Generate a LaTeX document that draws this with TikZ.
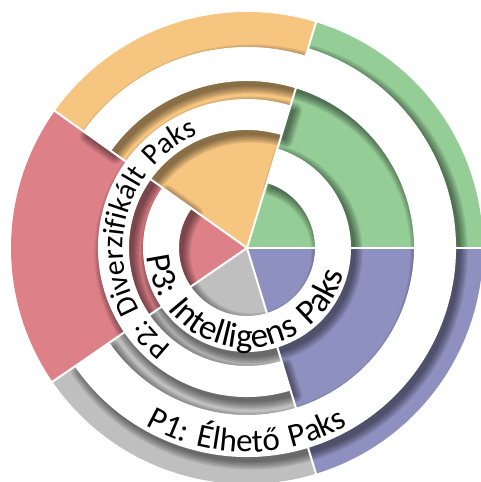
\documentclass[tikz,border=0pt]{standalone}
\usepackage{fontspec}
\setmainfont{Carlito}
\usetikzlibrary{decorations.text}
\definecolor{cgreen}{RGB}{149,205,151}
\definecolor{corange}{RGB}{246,197,128}
\definecolor{cred}{RGB}{222,128,136}
\definecolor{cgray}{RGB}{191,191,191}
\definecolor{cpurple}{RGB}{142,145,192}
\newcommand\ringpiece[5]{\path[#1] (#2:#4) arc[start angle=#2,end angle=#3,radius=#4] -- (#3:#5) arc[start angle=#3,end angle=#2,radius=#5] -- cycle;}
\newcommand\slicepiece[3]{\fill[#1] (0,0) -- (#2:236pt) arc[start angle=#2,end angle=#3,radius=236pt] -- cycle;}
\newcommand\allbands[1]{%
 \ringpiece{#1}{144.5}{433}{68pt}{104pt}%
 \ringpiece{#1}{73}{287}{118pt}{149pt}%
 \ringpiece{#1}{214.5}{433}{167pt}{209pt}%
 \ringpiece{#1}{433}{504.5}{167pt}{201pt}}
\newcommand\labelfontA{\fontsize{35}{35}\selectfont}
\newcommand\labelfontB{\fontsize{30}{30}\selectfont}
\newcommand\labelfontC{\fontsize{33}{33}\selectfont}
\tikzset{
 sep/.style={white, line width=2pt},
 bandfill/.style={fill=white},
 shadowlayer/.style={fill=black, draw=black, line join=round, line width=#1},
 arclabel/.style={decorate, decoration={text along path, text align=center, text={#1}}}
}
\begin{document}
\begin{tikzpicture}
\clip (0,0) rectangle (481pt,482pt);
\begin{scope}[shift={(247pt,234pt)}]
 \slicepiece{cgreen}{0}{73}
 \slicepiece{corange}{73}{144.5}
 \slicepiece{cred}{144.5}{214.5}
 \slicepiece{cgray}{214.5}{287}
 \slicepiece{cpurple}{287}{360}
 \foreach \w in {0.1pt,3pt,6pt,9pt,12pt,15pt}{
  \begin{scope}[transparency group, opacity=0.09, shift={(4pt,-5pt)}]
   \allbands{shadowlayer=\w}
  \end{scope}}
 \allbands{bandfill}
 \foreach \a in {0,73,144.5,214.5,287} \draw[sep] (0,0) -- (\a:237pt);
 \path[arclabel={|\labelfontA|P3:{\hskip12pt}Intelligens{\hskip12pt}Paks}] (165:100pt) arc[start angle=165,end angle=365,radius=100pt];
 \path[arclabel={|\labelfontC|P1:{\hskip11pt}Élhető{\hskip11pt}Paks}] (200:204pt) arc[start angle=200,end angle=340,radius=204pt];
 \path[arclabel={|\labelfontB|P2:{\hskip10pt}Diverzifikált{\hskip10pt}Paks}] (251:124pt) arc[start angle=251,end angle=95,radius=124pt];
\end{scope}
\end{tikzpicture}
\end{document}
